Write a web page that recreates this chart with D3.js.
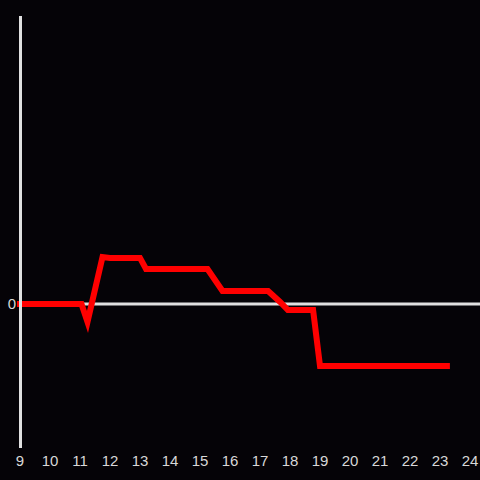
<!DOCTYPE html>
<html>
<head>
<meta charset="utf-8">
<script src="https://cdn.jsdelivr.net/npm/d3@7"></script>
<style>
body{margin:0;background:#050307;}
svg{display:block;}
</style>
</head>
<body>
<div id="chart"></div>
<script>
// hours of the day and the series value at each vertex
var hours  = [9, 11.05, 11.25, 11.75, 12.0, 13.0, 13.2, 15.25, 15.75, 17.27, 17.67, 17.93, 18.77, 19.0, 23.23];
var values = [0, 0, -1.25, 3.26, 3.2, 3.2, 2.43, 2.43, 0.9, 0.9, 0.14, -0.42, -0.42, -4.3, -4.3];
var xTicks = [9,10,11,12,13,14,15,16,17,18,19,20,21,22,23,24];
var yTicks = [0];

var width = 480, height = 480;
var svg = d3.select("#chart").append("svg")
	.attr("width",width)
	.attr("height",height)
	.style("background","#050307");

var x = d3.scaleLinear().domain([9,24]).range([20,470]);
var y = d3.scaleLinear().domain([-10,20]).range([448,16]);

var data = hours.map(function(h,i){return {h:h,v:values[i]};});

// zero line
svg.append("line")
	.attr("x1",x(9)).attr("x2",width)
	.attr("y1",y(0)).attr("y2",y(0))
	.style("stroke","#e0e0e0")
	.style("stroke-width",3);

var line = d3.line()
	.x(function(d){return x(d.h);})
	.y(function(d){return y(d.v);});

svg.append("path")
	.datum(data)
	.attr("d",line)
	.style("fill","none")
	.style("stroke","#ff0000")
	.style("stroke-width",6)
	.style("stroke-linecap","square")
	.style("stroke-linejoin","miter");

// y axis
svg.append("line")
	.attr("x1",20.5).attr("x2",20.5)
	.attr("y1",16).attr("y2",448)
	.style("stroke","#e0e0e0")
	.style("stroke-width",3);

svg.selectAll(".xt")
	.data(xTicks)
	.enter()
	.append("text")
	.attr("class","xt")
	.attr("x",function(d){return x(d);})
	.attr("y",461)
	.attr("dy","0.35em")
	.attr("text-anchor","middle")
	.style("fill","#d8d8d8")
	.style("font-family","'Liberation Sans', Arial, sans-serif")
	.style("font-size","15px")
	.text(function(d){return d;});

svg.selectAll(".yt")
	.data(yTicks)
	.enter()
	.append("text")
	.attr("class","yt")
	.attr("x",16)
	.attr("y",function(d){return y(d);})
	.attr("dy","0.35em")
	.attr("text-anchor","end")
	.style("fill","#d8d8d8")
	.style("font-family","'Liberation Sans', Arial, sans-serif")
	.style("font-size","15px")
	.text(function(d){return d;});
</script>
</body>
</html>
